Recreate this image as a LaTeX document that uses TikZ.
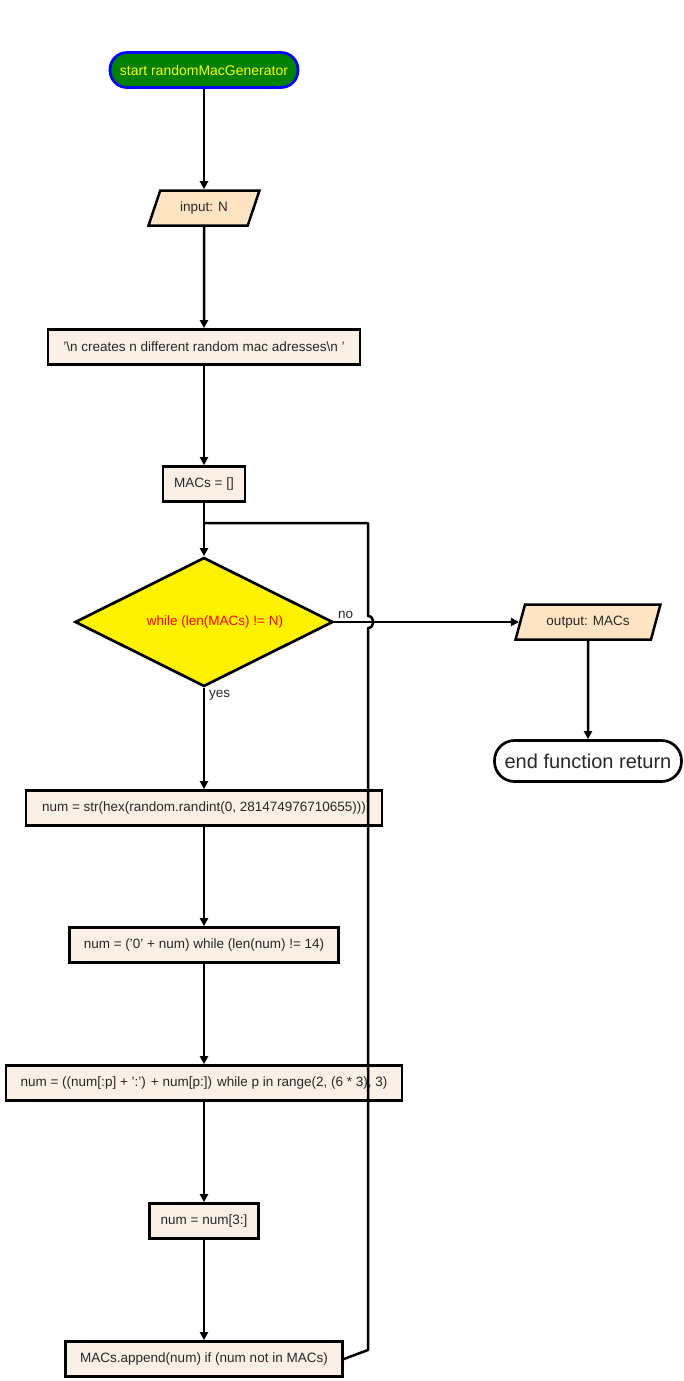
\documentclass[tikz,border=0pt]{standalone}
\usepackage{fontspec}
\setmainfont{Liberation Sans}
\usetikzlibrary{shapes.geometric,arrows.meta}
\definecolor{startgreen}{RGB}{0,128,0}
\definecolor{startblue}{RGB}{0,0,255}
\definecolor{startyellow}{RGB}{255,255,0}
\definecolor{iofill}{RGB}{255,228,196}
\definecolor{boxfill}{RGB}{250,240,230}
\definecolor{txt}{RGB}{40,40,40}
\begin{document}
\begin{tikzpicture}[x=1pt,y=-1pt,
  every node/.style={font=\fontsize{13.5}{15}\selectfont, text=txt},
  proc/.style={rectangle, draw=black, line width=2.7pt, fill=boxfill, minimum height=35pt, inner sep=0pt},
  io/.style={trapezium, trapezium left angle=63, trapezium right angle=117, trapezium stretches=true, draw=black, line width=2.5pt, fill=iofill, minimum height=35pt, inner sep=0pt},
  conn/.style={line width=2.5pt, draw=black},
  arr/.style={conn, -{Triangle[length=8pt,width=8pt]}},
  lbl/.style={font=\fontsize{13.5}{15}\selectfont, text=txt, inner sep=0pt}
]
\useasboundingbox (0,0) rectangle (684,1381);
\node[rectangle, rounded corners=17pt, draw=startblue, line width=2.7pt, fill=startgreen, minimum width=188pt, minimum height=35pt, inner sep=0pt, text=startyellow, font=\fontsize{14}{16}\selectfont] (start) at (204,70) {start randomMacGenerator};
\node[io, minimum width=111pt] (input) at (204,208) {input: N};
\node[proc, minimum width=312pt] (doc) at (204,347) {'\textbackslash n creates n different random mac adresses\textbackslash n '};
\node[proc, minimum width=82pt] (init) at (204,484) {MACs = []};
\node[diamond, draw=black, line width=2.7pt, fill=yellow, minimum width=258pt, minimum height=129pt, inner sep=0pt] (cond) at (204,622) {};
\node[text=red, inner sep=0pt, xshift=11pt] (condtext) at (cond.center) {while (len(MACs) != N)};
\node[io, minimum width=146pt] (out) at (588,622) {output: MACs};
\node[rectangle, rounded corners=20pt, draw=black, line width=2.7pt, fill=white, minimum width=187pt, minimum height=41pt, inner sep=0pt, font=\fontsize{20}{22}\selectfont] (end) at (588,761) {end function return};
\node[proc, minimum width=356pt] (hex) at (204,808) {num = str(hex(random.randint(0, 281474976710655)))};
\node[proc, minimum width=269pt] (pad) at (204,945) {num = ('0' + num) while (len(num) != 14)};
\node[proc, minimum width=396pt] (colon) at (204,1083) {num = ((num[:p] + ':') + num[p:]) while p in range(2, (6 * 3), 3)};
\node[proc, minimum width=109pt] (cut) at (204,1221) {num = num[3:]};
\node[proc, minimum width=277pt] (app) at (204,1359) {MACs.append(num) if (num not in MACs)};

\draw[arr] (start) -- (input);
\draw[arr] (input) -- (doc);
\draw[arr] (doc) -- (init);
\draw[arr] (init) -- (cond);
\draw[arr] (cond) -- (hex);
\draw[arr] (hex) -- (pad);
\draw[arr] (pad) -- (colon);
\draw[arr] (colon) -- (cut);
\draw[arr] (cut) -- (app);
\draw[arr] (out) -- (end);

\coordinate (hopB) at (368,628);
\coordinate (hopT) at (368,616);
\coordinate (loopjoin) at (204,523);
\draw[conn, line join=round] (app.east) -- (368,1350) -- (hopB) .. controls (375,628) and (375,616) .. (hopT) -- (368,523) -- (loopjoin);
\draw[arr] (cond.east) -- (out.west);

\node[lbl, anchor=south west] at (338,619) {no};
\node[lbl, anchor=north west] at (209,690) {yes};
\end{tikzpicture}
\end{document}
